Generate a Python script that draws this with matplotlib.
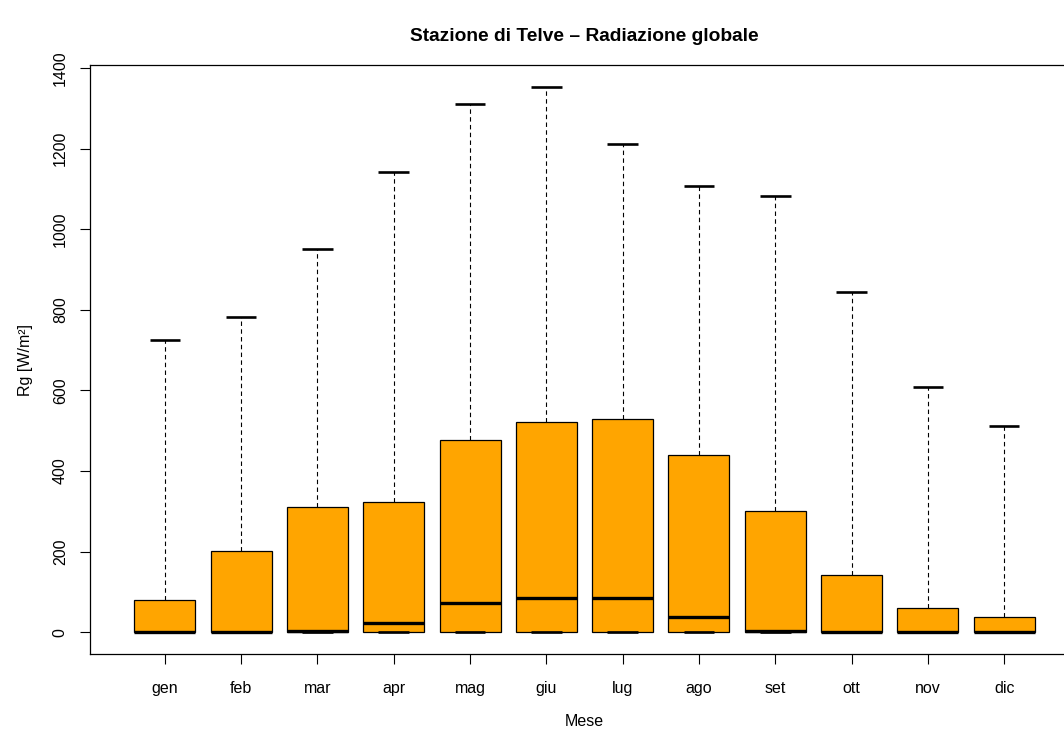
import matplotlib.pyplot as plt

# monthly stats (W/m2)
months = ["gen", "feb", "mar", "apr", "mag", "giu", "lug", "ago", "set", "ott", "nov", "dic"]
whis_hi = [725, 782, 950, 1142, 1310, 1353, 1210, 1107, 1082, 845, 608, 511]
q3 = [79, 202, 311, 322, 478, 522, 528, 440, 300, 141, 60, 38]
median = [0, 0, 3, 22, 72, 86, 84, 39, 3, 0, 0, 0]
q1 = [0] * 12
whis_lo = [0] * 12

plt.rcParams['font.family'] = ['Liberation Sans', 'DejaVu Sans']

stats = []
for i, m in enumerate(months):
    stats.append({"label": m, "med": median[i], "q1": q1[i], "q3": q3[i],
                  "whislo": whis_lo[i], "whishi": whis_hi[i], "fliers": []})

fig = plt.figure(figsize=(10.64, 7.31), dpi=100)
# the reference is cropped on the right, so the frame runs past the figure edge
ax = fig.add_axes([0.0846, 0.1053, 0.9295, 0.8057])

ax.bxp(stats, positions=range(1, 13), widths=0.8, capwidths=0.4,
       patch_artist=True, showfliers=False,
       boxprops=dict(facecolor="#FFA500", edgecolor="black", linewidth=0.9),
       medianprops=dict(color="black", linewidth=2.4, solid_capstyle="butt"),
       whiskerprops=dict(color="black", linewidth=0.8, linestyle=(0, (4, 3))),
       capprops=dict(color="black", linewidth=1.9, solid_capstyle="butt"))

ax.set_xlim(0.02, 12.98)
ax.set_ylim(-54, 1407)
ax.set_yticks(range(0, 1401, 200))
ax.set_xticks(range(1, 13))
ax.set_xticklabels(months)
ax.tick_params(axis="both", direction="out", length=7, width=0.8, labelsize=11.5)
ax.tick_params(axis="x", pad=12.5)
ax.tick_params(axis="y", pad=9)
for lab in ax.get_yticklabels():
    lab.set_rotation(90)
    lab.set_va("center")
for s in ax.spines.values():
    s.set_linewidth(0.9)

ax.set_xlabel("Mese", fontsize=11.5, labelpad=13)
ax.set_ylabel("Rg [W/m²]", fontsize=11.5, labelpad=14.5)
ax.set_title("Stazione di Telve – Radiazione globale", fontsize=13.8,
             fontweight="bold", pad=17.5)

fig.savefig("out.png", dpi=100)
